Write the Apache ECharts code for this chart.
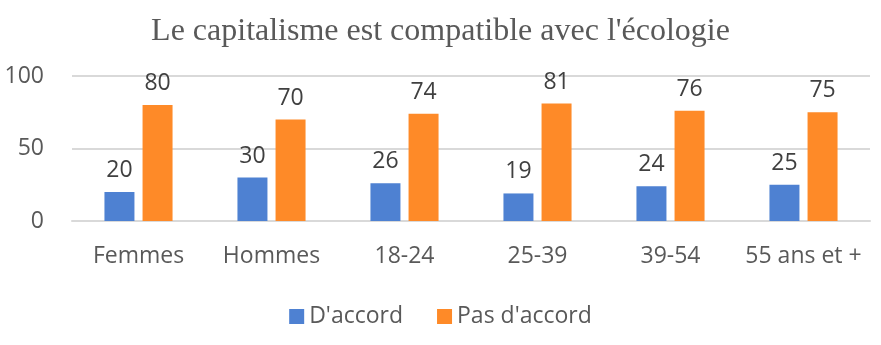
<!DOCTYPE html>
<html><head><meta charset="utf-8">
<script src="https://cdn.jsdelivr.net/npm/echarts@6/dist/echarts.min.js"></script>
<style>html,body{margin:0;padding:0;background:#fff}#c{width:881px;height:345px}</style>
</head><body><div id="c"></div>
<script>
const titleText = "Le capitalisme est compatible avec l'écologie";
const categories = ["Femmes", "Hommes", "18-24", "25-39", "39-54", "55 ans et +"];
const seriesNames = ["D'accord", "Pas d'accord"];
const accord = [20, 30, 26, 19, 24, 25];
const pasAccord = [80, 70, 74, 81, 76, 75];
const yTicks = [0, 50, 100];

const chart = echarts.init(document.getElementById('c'), null, {renderer: 'canvas'});
const lbl = {show: true, position: 'top', distance: 10, fontSize: 23, color: '#404040', fontFamily: 'Open Sans, Calibri, Carlito, sans-serif'};
chart.setOption({
  animation: false,
  title: {text: titleText, left: 'center', top: 11,
    textStyle: {fontFamily: 'Liberation Serif, Times New Roman, serif', fontSize: 32, fontWeight: 'normal', color: '#595959'}},
  legend: {bottom: 12, left: 'center', itemWidth: 15, itemHeight: 15, itemGap: 34, icon: 'rect',
    textStyle: {fontSize: 23, color: '#595959', fontFamily: 'Open Sans, Calibri, sans-serif'},
    data: seriesNames},
  grid: {left: 72, right: 11, top: 76, bottom: 124, containLabel: false},
  xAxis: {type: 'category', data: categories,
    axisLine: {show: true, lineStyle: {color: '#d9d9d9', width: 2}}, axisTick: {show: false},
    axisLabel: {interval: 0, fontSize: 23, color: '#595959', margin: 24, fontFamily: 'Open Sans, Calibri, sans-serif'}},
  yAxis: {type: 'value', min: yTicks[0], max: yTicks[yTicks.length-1], interval: 50,
    axisLine: {show: false}, axisTick: {show: false},
    splitLine: {lineStyle: {color: '#d9d9d9', width: 2}},
    axisLabel: {fontSize: 23, color: '#595959', margin: 28, fontFamily: 'Open Sans, Calibri, sans-serif'}},
  series: [
    {name: seriesNames[0], type: 'bar', data: accord, barWidth: 30, barGap: '27%', itemStyle: {color: '#4e81d2'}, label: lbl},
    {name: seriesNames[1], type: 'bar', data: pasAccord, barWidth: 30, barGap: '27%', itemStyle: {color: '#fe8a28'}, label: lbl}
  ]
});
</script></body></html>
